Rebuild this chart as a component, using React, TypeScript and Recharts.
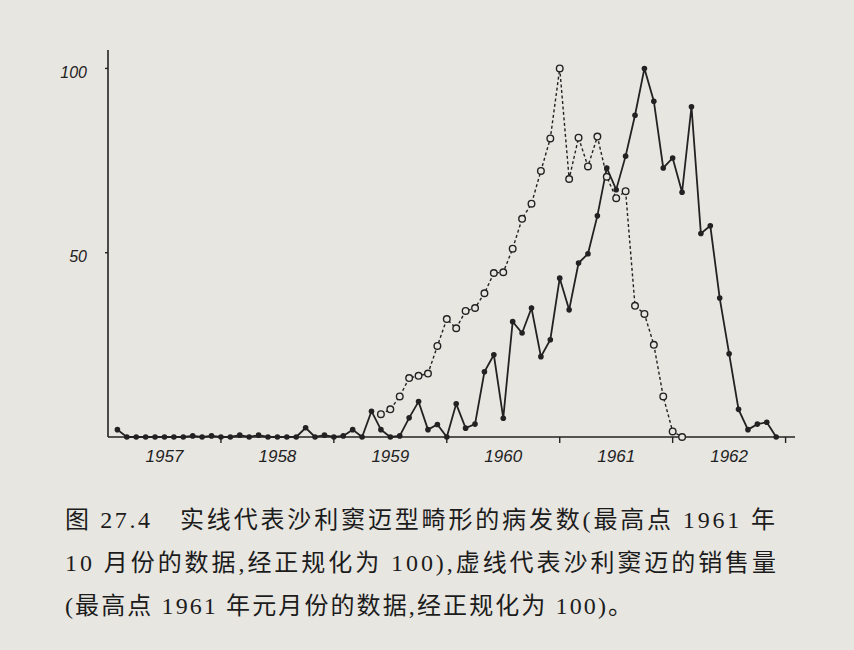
import { LineChart, Line, XAxis, YAxis } from 'recharts';

const INK = '#222222';
const PAPER = '#e8e6e1';

// one value per month, index 0 = Jan 1957 ... 71 = Dec 1962
// solid line: thalidomide-type malformations (Oct 1961 = 100)
const incidence: (number | null)[] = [
  null, 2, 0, 0, 0, 0, 0, 0, 0, 0.3, 0, 0.3,
  0, 0, 0.5, 0, 0.5, 0, 0, 0, 0, 2.5, 0, 0.5,
  0, 0.3, 2, 0, 7, 2, 0, 0.3, 5.2, 9.6, 2, 3.4,
  0, 9, 2.4, 3.5, 17.7, 22.3, 5.1, 31.3, 28.2, 35, 21.8, 26.4,
  43.1, 34.5, 47.2, 49.7, 60, 73, 67.1, 76.2, 87.3, 100, 91.1, 73,
  75.7, 66.4, 89.6, 55.2, 57.3, 37.7, 22.6, 7.5, 2, 3.5, 4, 0,
];

// dashed line: thalidomide sales (Jan 1961 = 100)
const sales: (number | null)[] = [
  null, null, null, null, null, null, null, null, null, null, null, null,
  null, null, null, null, null, null, null, null, null, null, null, null,
  null, null, null, null, null, 6.2, 7.5, 11, 16, 16.6, 17.2, 24.7,
  32, 29.5, 34.2, 35, 39, 44.5, 44.7, 51.1, 59.2, 63.3, 72.2, 81,
  100, 70, 81.2, 73.4, 81.5, 70.6, 64.8, 66.7, 35.6, 33.4, 25, 11,
  1.5, 0, null, null, null, null, null, null, null, null, null, null,
];

const yearLabels = ['1957', '1958', '1959', '1960', '1961', '1962'];
const yearStarts = [12, 24, 36, 48, 60, 72];
const yearMiddles = [6, 18, 30, 42, 54, 66];
const yTicks = [50, 100];

const figureNo = '图 27.4';
const captionLines = [
  '实线代表沙利窦迈型畸形的病发数(最高点 1961 年',
  '10 月份的数据,经正规化为 100),虚线代表沙利窦迈的销售量',
  '(最高点 1961 年元月份的数据,经正规化为 100)。',
];

const data = incidence.map((v, i) => ({ month: i, incidence: v, sales: sales[i] }));

const captionFont = "'Liberation Serif', 'Noto Sans CJK SC', serif";
const tickFont = "'Liberation Sans', Arial, sans-serif";

function SolidDot(props: any) {
  const { cx, cy, value, index } = props;
  if (value == null || cx == null || cy == null) return <g key={`s${index}`} />;
  return <circle key={`s${index}`} cx={cx} cy={cy} r={2.8} fill={INK} />;
}

function OpenDot(props: any) {
  const { cx, cy, value, index } = props;
  if (value == null || cx == null || cy == null) return <g key={`o${index}`} />;
  return (
    <circle key={`o${index}`} cx={cx} cy={cy} r={3.3} fill={PAPER} stroke={INK} strokeWidth={1.4} />
  );
}

function NoLabel() {
  return <g />;
}

function YearTick(props: any) {
  const { x, y, payload } = props;
  const label = yearLabels[(payload.value - 6) / 12];
  return (
    <text x={x} y={y + 9} textAnchor="middle" dominantBaseline="central"
      fontFamily={tickFont} fontStyle="italic" fontSize={17} fill={INK}>
      {label}
    </text>
  );
}

function ValueTick(props: any) {
  const { x, y, payload } = props;
  return (
    <text x={x} y={y + 4} textAnchor="end" dominantBaseline="central"
      fontFamily={tickFont} fontStyle="italic" fontSize={16} fill={INK}>
      {payload.value}
    </text>
  );
}

export default function App() {
  return (
    <div style={{ position: 'absolute', top: 0, left: 0, width: 854, height: 650, background: PAPER, overflow: 'hidden' }}>
      <LineChart
        width={854}
        height={650}
        data={data}
        margin={{ top: 50, right: 59, bottom: 173, left: 0 }}
      >
        <XAxis
          dataKey="month"
          type="number"
          domain={[0, 73]}
          ticks={yearStarts}
          interval={0}
          tick={<NoLabel />}
          tickSize={6}
          height={10}
          axisLine={{ stroke: INK, strokeWidth: 1.6 }}
          tickLine={{ stroke: INK, strokeWidth: 1.4 }}
        />
        <XAxis
          xAxisId="years"
          dataKey="month"
          type="number"
          domain={[0, 73]}
          ticks={yearMiddles}
          interval={0}
          axisLine={false}
          tickLine={false}
          tickSize={0}
          tickMargin={0}
          height={30}
          tick={<YearTick />}
        />
        <YAxis
          type="number"
          domain={[0, 105]}
          ticks={yTicks}
          interval={0}
          width={108}
          tickSize={3}
          tickMargin={18}
          axisLine={{ stroke: INK, strokeWidth: 1.6 }}
          tickLine={{ stroke: INK, strokeWidth: 1.4 }}
          tick={<ValueTick />}
        />
        <Line
          type="linear"
          dataKey="sales"
          stroke={INK}
          strokeWidth={1.4}
          strokeDasharray="3 2.5"
          dot={<OpenDot />}
          activeDot={false}
          isAnimationActive={false}
        />
        <Line
          type="linear"
          dataKey="incidence"
          stroke={INK}
          strokeWidth={1.8}
          dot={<SolidDot />}
          activeDot={false}
          isAnimationActive={false}
        />
      </LineChart>
      <svg width={854} height={650} style={{ position: 'absolute', top: 0, left: 0, pointerEvents: 'none' }}>
        <g fontFamily={captionFont} fontSize={24} fill="#1c1c1c">
          <text x={65} y={520} dominantBaseline="central" textLength={85} lengthAdjust="spacing">{figureNo}</text>
          <text x={180} y={520} dominantBaseline="central" textLength={595} lengthAdjust="spacing">{captionLines[0]}</text>
          <text x={65} y={563} dominantBaseline="central" textLength={711} lengthAdjust="spacing">{captionLines[1]}</text>
          <text x={65} y={606} dominantBaseline="central" textLength={567} lengthAdjust="spacing">{captionLines[2]}</text>
        </g>
      </svg>
    </div>
  );
}
